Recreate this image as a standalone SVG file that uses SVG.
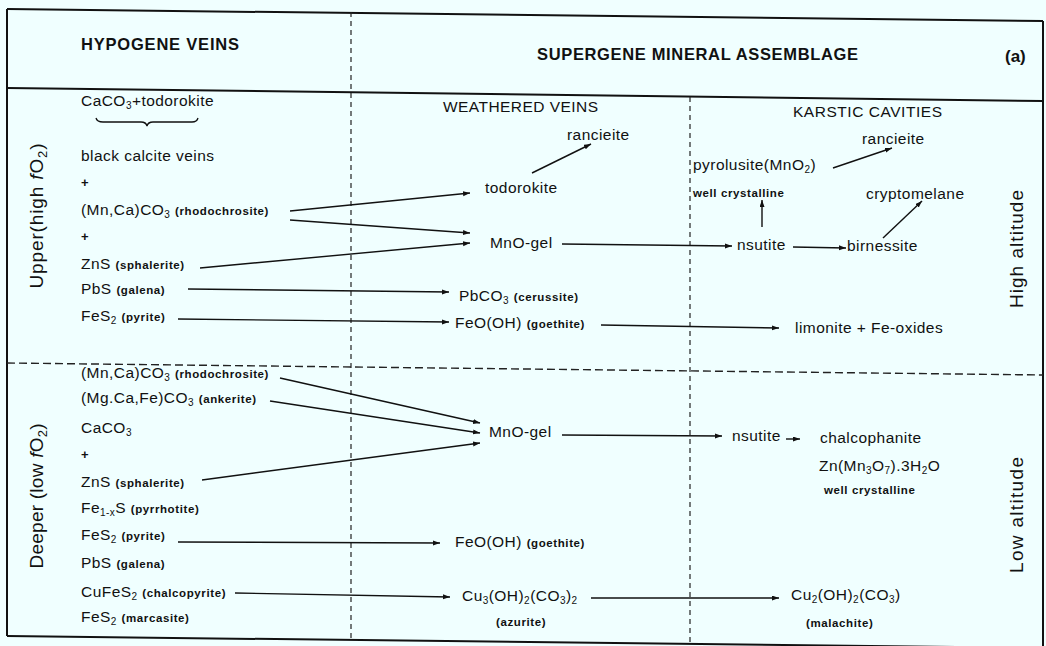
<svg xmlns="http://www.w3.org/2000/svg" width="1046" height="646" viewBox="0 0 1046 646">
  <style>
    text { font-family: "Liberation Sans", Arial, sans-serif; fill: #111; }
    .t { font-size: 15.5px; letter-spacing: 0.45px; }
    .s { font-size: 11.5px; font-weight: bold; letter-spacing: 0.6px; }
    .plus { font-size: 13px; font-weight: bold; }
    .hd { font-size: 16.5px; font-weight: bold; }
    .col { font-size: 15.5px; }
    .side { font-size: 19px; }
    .frame { fill: none; stroke: #111; stroke-width: 2; }
    .dashv { fill: none; stroke: #222; stroke-width: 1.2; stroke-dasharray: 5 4; }
    .dashh { fill: none; stroke: #222; stroke-width: 1.4; stroke-dasharray: 8 4; }
    .arr { fill: none; stroke: #111; stroke-width: 1.4; marker-end: url(#head); }
  </style>
  <defs>
    <marker id="head" markerUnits="userSpaceOnUse" markerWidth="8" markerHeight="6" refX="7" refY="2.5" orient="auto">
      <path d="M0,0 L7,2.5 L0,5 z" fill="#111"/>
    </marker>
  </defs>

  <rect width="1046" height="646" fill="#f0ffff"/>

  <!-- table frame -->
  <g id="frame">
    <line class="frame" x1="7" y1="9" x2="1043" y2="21"/>
    <line class="frame" x1="7" y1="9" x2="7" y2="636"/>
    <line class="frame" x1="1043" y1="21" x2="1043" y2="646"/>
    <line class="frame" x1="7" y1="636" x2="1043" y2="648"/>
    <line class="frame" x1="7" y1="88" x2="1043" y2="101"/>
    <line class="dashh" x1="7" y1="363" x2="1043" y2="375"/>
    <line class="dashv" x1="351" y1="12" x2="351" y2="640"/>
    <line class="dashv" x1="690" y1="97" x2="690" y2="643"/>
  </g>

  <!-- column and row headings -->
  <g id="headings">
    <text class="hd" x="81" y="50" textLength="158" lengthAdjust="spacing">HYPOGENE VEINS</text>
    <text class="hd" x="537" y="60" textLength="321" lengthAdjust="spacing">SUPERGENE MINERAL ASSEMBLAGE</text>
    <text class="hd" x="1005" y="62" style="font-size:17px">(a)</text>
    <text class="col" x="443" y="112" textLength="155" lengthAdjust="spacing">WEATHERED VEINS</text>
    <text class="col" x="793" y="117" textLength="149" lengthAdjust="spacing">KARSTIC CAVITIES</text>
    <text class="side" transform="translate(43,216) rotate(-90)" text-anchor="middle" textLength="145" lengthAdjust="spacing">Upper(high <tspan font-style="italic">f</tspan>O<tspan font-size="13" dy="4">2</tspan><tspan dy="-4">)</tspan></text>
    <text class="side" transform="translate(43,496) rotate(-90)" text-anchor="middle" textLength="145" lengthAdjust="spacing">Deeper (low <tspan font-style="italic">f</tspan>O<tspan font-size="13" dy="4">2</tspan><tspan dy="-4">)</tspan></text>
    <text class="side" transform="translate(1023,249) rotate(-90)" text-anchor="middle" textLength="118" lengthAdjust="spacing">High altitude</text>
    <text class="side" transform="translate(1023,515) rotate(-90)" text-anchor="middle" textLength="116" lengthAdjust="spacing">Low altitude</text>
  </g>

  <!-- hypogene minerals, upper level -->
  <g id="hypogene-upper">
    <text class="t" x="81" y="106">CaCO<tspan font-size="10" dy="3">3</tspan><tspan dy="-3">+todorokite</tspan></text>
    <path d="M96,118 Q97,122 103,122 L141,122 Q146,122 147,126 Q148,122 153,122 L192,122 Q197,122 198,118" fill="none" stroke="#111" stroke-width="1.3"/>
    <text class="t" x="81" y="161">black calcite veins</text>
    <text class="plus" x="81" y="187">+</text>
    <text class="t" x="81" y="215">(Mn,Ca)CO<tspan font-size="10" dy="3">3</tspan><tspan dy="-3"> </tspan><tspan class="s">(rhodochrosite)</tspan></text>
    <text class="plus" x="81" y="241">+</text>
    <text class="t" x="81" y="269">ZnS <tspan class="s">(sphalerite)</tspan></text>
    <text class="t" x="81" y="294">PbS <tspan class="s">(galena)</tspan></text>
    <text class="t" x="81" y="321">FeS<tspan font-size="10" dy="3">2</tspan><tspan dy="-3"> </tspan><tspan class="s">(pyrite)</tspan></text>
  </g>

  <!-- hypogene minerals, deeper level -->
  <g id="hypogene-deeper">
    <text class="t" x="81" y="378">(Mn,Ca)CO<tspan font-size="10" dy="3">3</tspan><tspan dy="-3"> </tspan><tspan class="s">(rhodochrosite)</tspan></text>
    <text class="t" x="81" y="403">(Mg.Ca,Fe)CO<tspan font-size="10" dy="3">3</tspan><tspan dy="-3"> </tspan><tspan class="s">(ankerite)</tspan></text>
    <text class="t" x="81" y="433">CaCO<tspan font-size="10" dy="3">3</tspan></text>
    <text class="plus" x="81" y="459">+</text>
    <text class="t" x="81" y="487">ZnS <tspan class="s">(sphalerite)</tspan></text>
    <text class="t" x="81" y="513">Fe<tspan font-size="10" dy="3">1-x</tspan><tspan dy="-3">S </tspan><tspan class="s">(pyrrhotite)</tspan></text>
    <text class="t" x="81" y="540">FeS<tspan font-size="10" dy="3">2</tspan><tspan dy="-3"> </tspan><tspan class="s">(pyrite)</tspan></text>
    <text class="t" x="81" y="568">PbS <tspan class="s">(galena)</tspan></text>
    <text class="t" x="81" y="597">CuFeS<tspan font-size="10" dy="3">2</tspan><tspan dy="-3"> </tspan><tspan class="s">(chalcopyrite)</tspan></text>
    <text class="t" x="81" y="622">FeS<tspan font-size="10" dy="3">2</tspan><tspan dy="-3"> </tspan><tspan class="s">(marcasite)</tspan></text>
  </g>

  <!-- weathered veins products -->
  <g id="weathered">
    <text class="t" x="567" y="140">rancieite</text>
    <text class="t" x="485" y="193">todorokite</text>
    <text class="t" x="490" y="248">MnO-gel</text>
    <text class="t" x="459" y="301">PbCO<tspan font-size="10" dy="3">3</tspan><tspan dy="-3"> </tspan><tspan class="s">(cerussite)</tspan></text>
    <text class="t" x="455" y="328">FeO(OH) <tspan class="s">(goethite)</tspan></text>
    <text class="t" x="489" y="437">MnO-gel</text>
    <text class="t" x="455" y="547">FeO(OH) <tspan class="s">(goethite)</tspan></text>
    <text class="t" x="462" y="601">Cu<tspan font-size="10" dy="3">3</tspan><tspan dy="-3">(OH)</tspan><tspan font-size="10" dy="3">2</tspan><tspan dy="-3">(CO</tspan><tspan font-size="10" dy="3">3</tspan><tspan dy="-3">)</tspan><tspan font-size="10" dy="3">2</tspan></text>
    <text class="s" x="496" y="626">(azurite)</text>
  </g>

  <!-- karstic cavities products -->
  <g id="karstic">
    <text class="t" x="862" y="144">rancieite</text>
    <text class="t" x="693" y="170">pyrolusite(MnO<tspan font-size="10" dy="3">2</tspan><tspan dy="-3">)</tspan></text>
    <text class="s" x="693" y="197">well crystalline</text>
    <text class="t" x="866" y="199">cryptomelane</text>
    <text class="t" x="737" y="250">nsutite</text>
    <text class="t" x="847" y="251">birnessite</text>
    <text class="t" x="795" y="333">limonite + Fe-oxides</text>
    <text class="t" x="732" y="441">nsutite</text>
    <text class="t" x="820" y="443">chalcophanite</text>
    <text class="t" x="819" y="471">Zn(Mn<tspan font-size="10" dy="3">3</tspan><tspan dy="-3">O</tspan><tspan font-size="10" dy="3">7</tspan><tspan dy="-3">).3H</tspan><tspan font-size="10" dy="3">2</tspan><tspan dy="-3">O</tspan></text>
    <text class="s" x="824" y="494">well crystalline</text>
    <text class="t" x="791" y="600">Cu<tspan font-size="10" dy="3">2</tspan><tspan dy="-3">(OH)</tspan><tspan font-size="10" dy="3">2</tspan><tspan dy="-3">(CO</tspan><tspan font-size="10" dy="3">3</tspan><tspan dy="-3">)</tspan></text>
    <text class="s" x="806" y="627">(malachite)</text>
  </g>

  <!-- alteration paths -->
  <g id="connectors">
    <line class="arr" x1="290" y1="211" x2="470" y2="193"/>
    <line class="arr" x1="290" y1="220" x2="470" y2="233"/>
    <line class="arr" x1="200" y1="268" x2="470" y2="243"/>
    <line class="arr" x1="532" y1="173" x2="591" y2="144"/>
    <line class="arr" x1="562" y1="244" x2="732" y2="246"/>
    <line class="arr" x1="793" y1="247" x2="846" y2="248"/>
    <line class="arr" x1="883" y1="238" x2="922" y2="201"/>
    <line class="arr" x1="762" y1="227" x2="762" y2="200"/>
    <line class="arr" x1="833" y1="168" x2="892" y2="148"/>
    <line class="arr" x1="188" y1="289" x2="449" y2="292"/>
    <line class="arr" x1="178" y1="319" x2="449" y2="322"/>
    <line class="arr" x1="601" y1="325" x2="779" y2="328"/>
    <line class="arr" x1="280" y1="378" x2="480" y2="423"/>
    <line class="arr" x1="270" y1="401" x2="480" y2="433"/>
    <line class="arr" x1="202" y1="480" x2="480" y2="443"/>
    <line class="arr" x1="562" y1="435" x2="722" y2="436"/>
    <line class="arr" x1="786" y1="439" x2="800" y2="439"/>
    <line class="arr" x1="178" y1="542" x2="440" y2="543"/>
    <line class="arr" x1="235" y1="593" x2="450" y2="597"/>
    <line class="arr" x1="591" y1="598" x2="779" y2="598"/>
  </g>
</svg>
